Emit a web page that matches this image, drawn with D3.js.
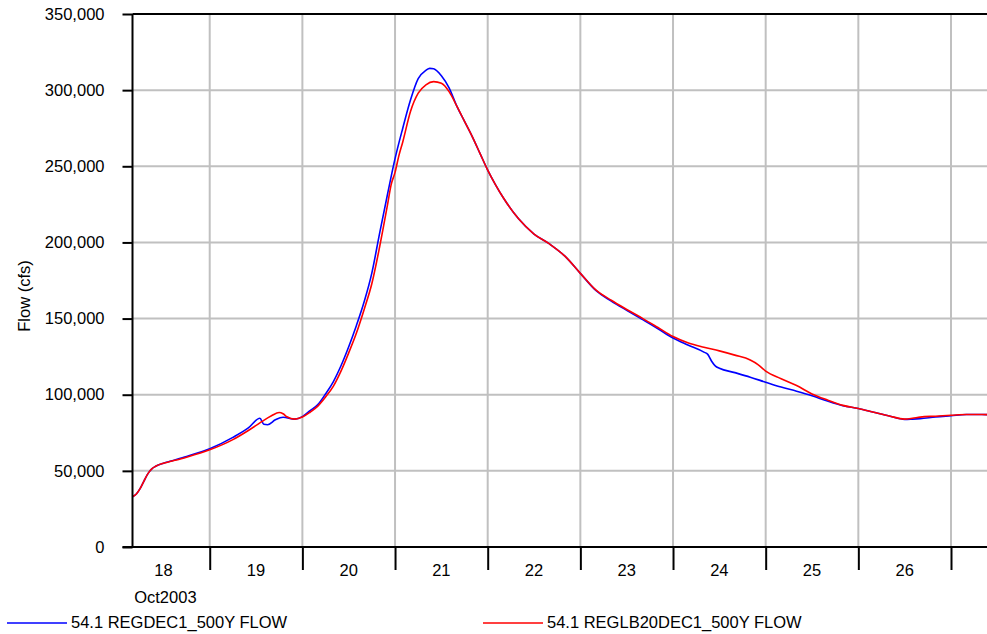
<!DOCTYPE html>
<html>
<head>
<meta charset="utf-8">
<script src="https://cdn.jsdelivr.net/npm/d3@7"></script>
<style>
  html, body { margin: 0; padding: 0; background: #fff; }
  svg { display: block; font-family: "Liberation Sans", Arial, sans-serif; }
</style>
</head>
<body>
<svg id="chart" width="987" height="634"></svg>
<script>
// ---- Data (hours since 18 Oct 2003 00:00, flow in cfs) ----
const seriesNames = ["54.1 REGDEC1_500Y FLOW", "54.1 REGLB20DEC1_500Y FLOW"];
const seriesColors = ["#0000ff", "#ff0000"];

const blueHours = [4, 5, 6, 7, 8, 9, 10, 12, 14, 18, 24, 30, 34, 37, 38, 39, 41, 43, 46, 48, 50, 52, 54, 56, 58, 60, 62, 64, 66, 68, 70, 72, 74, 76, 78, 80, 81, 82, 84, 86, 88, 90, 92, 94, 96, 98, 100, 104, 108, 112, 116, 120, 124, 128, 132, 136, 140, 144, 148, 152, 153, 154, 155, 156, 160, 164, 168, 172, 176, 180, 184, 188, 192, 196, 200, 204, 206, 208, 212, 216, 220, 224, 226];
const blueFlow = [33000, 34800, 38500, 43500, 48200, 51300, 53000, 55000, 56500, 59500, 64500, 72000, 78200, 84500, 80600, 80300, 83500, 85200, 84000, 85600, 89500, 93500, 100500, 108500, 119000, 131500, 145500, 161000, 180000, 206000, 231000, 255000, 275000, 293500, 307500, 313000, 314300, 314000, 309500, 301500, 289500, 279500, 269500, 258500, 247500, 238000, 229500, 215500, 205500, 199000, 191000, 179700, 168500, 161500, 155400, 149500, 143500, 137200, 132500, 128000, 126500, 122000, 118800, 117400, 114500, 111500, 108200, 105000, 102300, 99300, 95800, 92800, 91000, 88500, 86000, 83800, 84000, 84300, 85400, 86200, 87000, 87000, 86800];

const redHours = [4, 5, 6, 7, 8, 9, 10, 12, 14, 18, 24, 30, 34, 37, 38, 40, 42, 43, 44, 46, 48, 50, 52, 54, 56, 58, 60, 62, 64, 66, 68, 70, 71, 72, 73, 74, 76, 78, 80, 82, 84, 86, 88, 90, 92, 94, 96, 98, 100, 104, 108, 112, 116, 120, 124, 128, 132, 136, 140, 144, 148, 152, 156, 160, 164, 166, 168, 172, 176, 180, 184, 188, 192, 196, 200, 204, 206, 208, 212, 216, 220, 224, 226];
const redFlow = [33000, 34800, 38500, 43500, 48200, 51300, 53000, 55000, 56300, 59000, 63800, 70500, 76500, 81500, 83200, 86200, 88300, 87500, 85500, 84000, 85300, 88500, 92500, 98500, 105500, 115500, 127500, 140500, 156000, 173000, 197000, 224000, 238000, 246000, 257000, 266000, 286000, 298000, 303500, 305600, 304500, 299000, 289500, 279500, 269500, 258500, 247500, 238000, 229500, 215500, 205500, 199000, 191000, 179700, 168800, 162000, 156000, 150300, 144300, 138200, 134000, 131200, 128800, 126000, 122800, 119800, 115500, 110500, 106000, 100500, 96500, 93000, 91000, 88500, 86000, 84000, 84500, 85300, 85900, 86500, 87000, 87000, 86800];

const dayLabels = ["18", "19", "20", "21", "22", "23", "24", "25", "26"];
const yTickValues = [0, 50000, 100000, 150000, 200000, 250000, 300000, 350000];
const yAxisTitle = "Flow (cfs)";
const xAxisTitle = "Oct2003";

// ---- Layout ----
const base = Date.UTC(2003, 9, 18);
const toDate = h => new Date(base + h * 3600e3);
const L = 132.5, R = 988, T = 14, B = 547;

const svg = d3.select("#chart");
const x = d3.scaleUtc().domain([toDate(4), toDate(24 * 9 + 9 + 35 / 60)]).range([L, R]);
const y = d3.scaleLinear().domain([0, 350000]).range([B, T]);

const fontSize = 16.5;

// grid
const dayBoundaries = d3.range(1, 10).map(d => toDate(24 * d));
svg.append("g").selectAll("line.vg").data(dayBoundaries).join("line")
  .attr("x1", d => x(d)).attr("x2", d => x(d)).attr("y1", T).attr("y2", B)
  .attr("stroke", "#c0c0c0").attr("stroke-width", 2);
svg.append("g").selectAll("line.hg").data(yTickValues.filter(v => v > 0 && v < 350000)).join("line")
  .attr("x1", L).attr("x2", R).attr("y1", d => y(d)).attr("y2", d => y(d))
  .attr("stroke", "#c0c0c0").attr("stroke-width", 2);

// series
const line = d3.line().x(d => x(toDate(d[0]))).y(d => y(d[1])).curve(d3.curveMonotoneX);
svg.append("clipPath").attr("id", "clip").append("rect")
  .attr("x", L).attr("y", T).attr("width", R - L).attr("height", B - T);
const plotG = svg.append("g").attr("clip-path", "url(#clip)");
plotG.append("path").datum(d3.zip(blueHours, blueFlow))
  .attr("d", line).attr("fill", "none").attr("stroke", seriesColors[0]).attr("stroke-width", 1.6);
plotG.append("path").datum(d3.zip(redHours, redFlow))
  .attr("d", line).attr("fill", "none").attr("stroke", seriesColors[1]).attr("stroke-width", 1.6);

// axes
const yAxis = d3.axisLeft(y).tickValues(yTickValues).tickFormat(d3.format(",")).tickSize(10).tickPadding(18);
const yg = svg.append("g").attr("transform", `translate(${L},0)`).call(yAxis);
yg.select(".domain").remove();
yg.selectAll(".tick line").attr("stroke", "#000").attr("stroke-width", 2);
yg.selectAll(".tick text").attr("font-size", fontSize).attr("fill", "#000")
  .attr("font-family", "Liberation Sans, Arial, sans-serif");

const xAxis = d3.axisBottom(x).tickValues(dayBoundaries).tickFormat("").tickSize(23);
const xg = svg.append("g").attr("transform", `translate(0,${B})`).call(xAxis);
xg.select(".domain").remove();
xg.selectAll(".tick line").attr("stroke", "#000").attr("stroke-width", 2);

// frame lines
svg.append("line").attr("x1", L).attr("x2", L).attr("y1", T).attr("y2", B).attr("stroke", "#000").attr("stroke-width", 2);
svg.append("line").attr("x1", L - 10).attr("x2", R).attr("y1", B).attr("y2", B).attr("stroke", "#000").attr("stroke-width", 2);
svg.append("line").attr("x1", L).attr("x2", R).attr("y1", T).attr("y2", T).attr("stroke", "#000").attr("stroke-width", 2);

// day labels at noon
svg.append("g").selectAll("text").data(dayLabels).join("text")
  .attr("x", (d, i) => x(toDate(24 * i + 12)))
  .attr("y", 576)
  .attr("text-anchor", "middle").attr("font-size", fontSize).attr("fill", "#000")
  .text(d => d);

svg.append("text").attr("x", x(toDate(12)) + 2).attr("y", 603)
  .attr("text-anchor", "middle").attr("font-size", fontSize).text(xAxisTitle);

svg.append("text").attr("transform", "translate(30,296) rotate(-90)")
  .attr("text-anchor", "middle").attr("font-size", fontSize).text(yAxisTitle);

// legend
const legendX = [7, 483];
seriesNames.forEach((name, i) => {
  svg.append("line").attr("x1", legendX[i]).attr("x2", legendX[i] + 60)
    .attr("y1", 623).attr("y2", 623).attr("stroke", seriesColors[i]).attr("stroke-width", 1.6);
  svg.append("text").attr("x", legendX[i] + 64).attr("y", 628)
    .attr("font-size", fontSize).text(name);
});
</script>
</body>
</html>
